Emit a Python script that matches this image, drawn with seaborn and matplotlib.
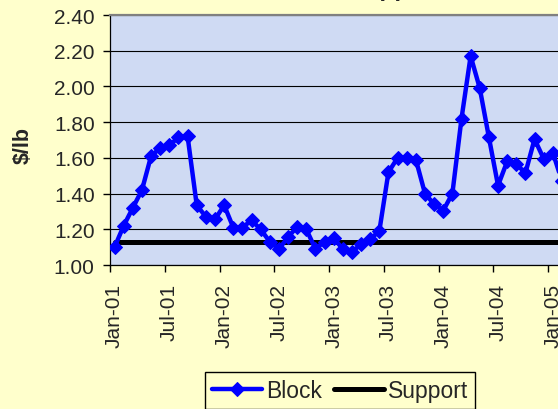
import numpy as np
import pandas as pd
import matplotlib
matplotlib.use("Agg")
import matplotlib.pyplot as plt
import seaborn as sns

# ---- data ----
block = [1.10, 1.22, 1.32, 1.42, 1.61, 1.655, 1.67, 1.715, 1.72, 1.335,
         1.27, 1.255, 1.335, 1.21, 1.21, 1.25, 1.20, 1.13, 1.09, 1.155,
         1.215, 1.20, 1.09, 1.13, 1.15, 1.09, 1.075, 1.115, 1.145, 1.19,
         1.52, 1.60, 1.60, 1.59, 1.40, 1.34, 1.305, 1.40, 1.82, 2.17,
         1.99, 1.715, 1.445, 1.58, 1.565, 1.515, 1.705, 1.595, 1.63, 1.47]
support_level = 1.1314
tick_labels = ["Jan-01", "Jul-01", "Jan-02", "Jul-02", "Jan-03",
               "Jul-03", "Jan-04", "Jul-04", "Jan-05"]
y_ticks = [1.00, 1.20, 1.40, 1.60, 1.80, 2.00, 2.20, 2.40]

months = np.arange(len(block))
df = pd.DataFrame({"month": months, "Block": block,
                   "Support": [support_level] * len(block)})

sns.set_style("white")
plt.rcParams["font.family"] = ["Liberation Sans", "DejaVu Sans"]

W, H = 558, 410
fig = plt.figure(figsize=(W / 100, H / 100), dpi=100)
bg = "#FFFFCC"
fig.patch.set_facecolor(bg)

px_per_month = 9.13
n = len(block)
left_px, top_px, bottom_px = 110, 16, 266
ax = fig.add_axes([left_px / W, 1 - bottom_px / H,
                   px_per_month * n / W, (bottom_px - top_px) / H])
ax.set_facecolor("#CFDAF3")

sns.lineplot(data=df, x="month", y="Support", ax=ax, color="black",
             linewidth=3.6, label="Support", zorder=3)
sns.lineplot(data=df, x="month", y="Block", ax=ax, color="#0000FF",
             linewidth=3.2, marker="D", markersize=7,
             markeredgecolor="#0000FF", label="Block", zorder=4)

ax.set_xlim(-0.5, n - 0.5)
ax.set_ylim(1.0, 2.4)
ax.set_yticks(y_ticks)
ax.set_yticklabels([f"{v:.2f}" for v in y_ticks])
label_pos = np.arange(len(tick_labels)) * 6
ax.set_xticks(label_pos)
ax.set_xticklabels(tick_labels, rotation=90)
ax.set_xticks(label_pos - 0.5, minor=True)
ax.tick_params(axis="x", which="major", length=0, pad=13, labelsize=15)
ax.tick_params(axis="x", which="minor", length=5, width=1, color="black",
               direction="out")
ax.tick_params(axis="y", length=5, width=1, color="black", direction="out",
               pad=6, labelsize=15)
ax.xaxis.set_ticks_position("bottom")
ax.yaxis.set_ticks_position("left")

ax.grid(axis="y", color="black", linewidth=0.8)
ax.set_axisbelow(True)
ax.spines["right"].set_visible(False)
ax.spines["top"].set_color("#808080")
ax.spines["top"].set_linewidth(1.6)
ax.spines["left"].set_color("black")
ax.spines["left"].set_linewidth(0.9)
ax.spines["bottom"].set_color("black")
ax.spines["bottom"].set_linewidth(0.9)

ax.set_xlabel("")
ax.set_ylabel("")
fig.text(23 / W, 1 - 145 / H, "$/lb", rotation=90, fontsize=15.5,
         fontweight="bold", ha="center", va="center")

# title (mostly above the visible area)
fig.text(234 / W, 1 + 4 / H, "Block vs. Support", fontsize=17.6,
         fontweight="bold", ha="left", va="baseline")

ax.legend_.remove()
handles, labels = ax.get_legend_handles_labels()
order = [labels.index("Block"), labels.index("Support")]
leg = fig.legend([handles[i] for i in order], [labels[i] for i in order],
                 loc="upper left", bbox_to_anchor=(205 / W, 1 - 373 / H),
                 ncol=2, fontsize=16.5, frameon=True, fancybox=False,
                 edgecolor="black", facecolor=bg, framealpha=1,
                 handlelength=2.2, handletextpad=0.17, columnspacing=0.5,
                 borderpad=0.3, borderaxespad=0)
leg.get_frame().set_linewidth(1.0)

fig.savefig("out.png", dpi=100, facecolor=bg)
